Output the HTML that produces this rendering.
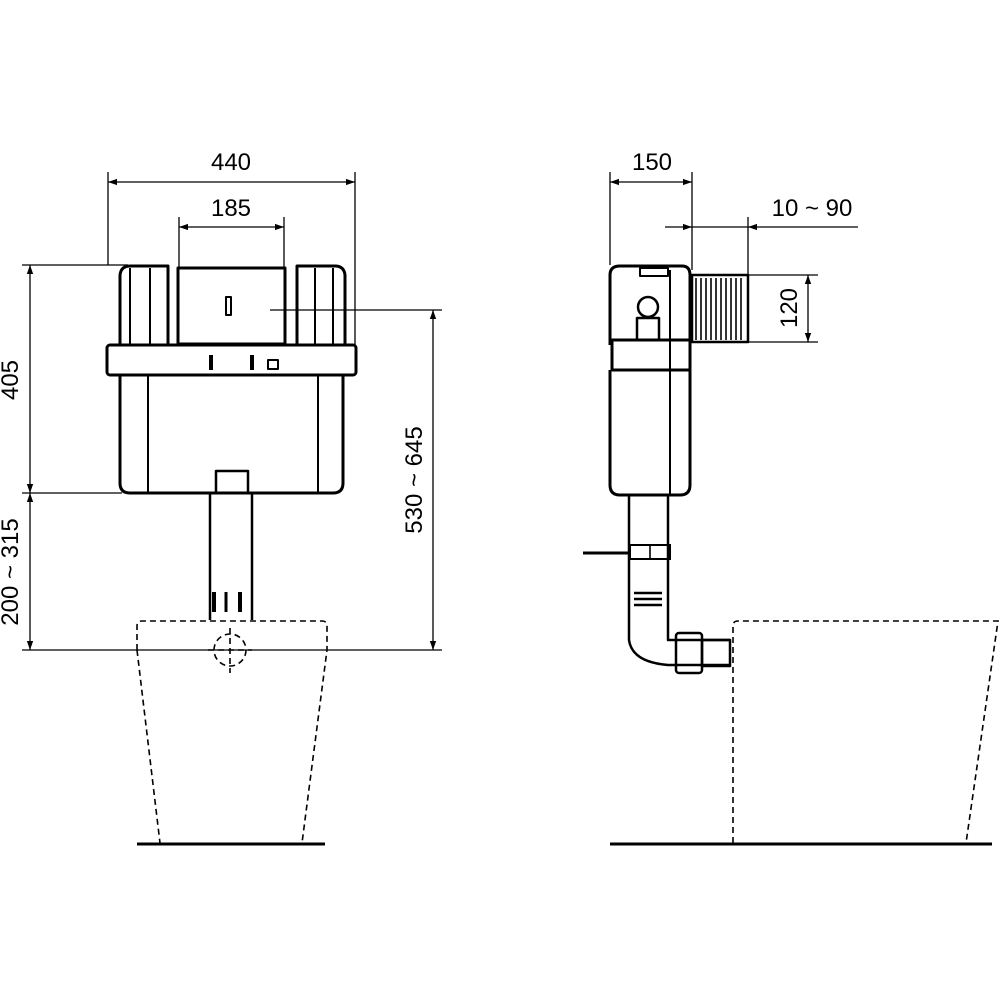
<!DOCTYPE html>
<html><head><meta charset="utf-8"><style>
html,body{margin:0;padding:0;background:#fff}
svg{display:block}
text{font-family:"Liberation Sans",sans-serif;font-size:24px;fill:#000;font-weight:500}
</style></head><body>
<svg width="1000" height="1000" viewBox="0 0 1000 1000" xmlns="http://www.w3.org/2000/svg">
<defs>
<marker id="a" viewBox="0 0 10 10" refX="10" refY="5" markerWidth="9" markerHeight="9" orient="auto-start-reverse" markerUnits="userSpaceOnUse"><path d="M0,1.5 L10,5 L0,8.5 z" fill="#000"/></marker>
</defs>
<g stroke="#000" stroke-width="1.3" fill="none">
<line x1="108" y1="172" x2="108" y2="265"/><line x1="355" y1="172" x2="355" y2="345"/>
<line x1="108" y1="182" x2="355" y2="182" marker-start="url(#a)" marker-end="url(#a)"/>
<line x1="179" y1="217" x2="179" y2="268"/><line x1="284" y1="217" x2="284" y2="268"/>
<line x1="179" y1="227" x2="284" y2="227" marker-start="url(#a)" marker-end="url(#a)"/>
<line x1="22" y1="265" x2="128" y2="265"/><line x1="22" y1="493" x2="122" y2="493"/>
<line x1="30" y1="265" x2="30" y2="493" marker-start="url(#a)" marker-end="url(#a)"/>
<line x1="30" y1="493" x2="30" y2="650" marker-start="url(#a)" marker-end="url(#a)"/>
<line x1="22" y1="650" x2="442" y2="650"/>
<line x1="270" y1="310" x2="442" y2="310"/>
<line x1="433" y1="310" x2="433" y2="650" marker-start="url(#a)" marker-end="url(#a)"/>
<line x1="610" y1="172" x2="610" y2="265"/><line x1="692" y1="172" x2="692" y2="270"/>
<line x1="610" y1="182" x2="692" y2="182" marker-start="url(#a)" marker-end="url(#a)"/>
<line x1="748" y1="217" x2="748" y2="275"/>
<line x1="665" y1="227" x2="692" y2="227" marker-end="url(#a)"/>
<line x1="692" y1="227" x2="748" y2="227"/>
<line x1="858" y1="227" x2="748" y2="227" marker-end="url(#a)"/>
<line x1="748" y1="275" x2="818" y2="275"/><line x1="748" y1="342" x2="818" y2="342"/>
<line x1="808" y1="275" x2="808" y2="342" marker-start="url(#a)" marker-end="url(#a)"/>
</g>
<text x="231" y="170" text-anchor="middle">440</text>
<text x="231" y="216" text-anchor="middle">185</text>
<text transform="translate(18,380) rotate(-90)" text-anchor="middle">405</text>
<text transform="translate(18,572) rotate(-90)" text-anchor="middle">200 ~ 315</text>
<text transform="translate(422,480) rotate(-90)" text-anchor="middle">530 ~ 645</text>
<text x="652" y="170" text-anchor="middle">150</text>
<text x="812" y="216" text-anchor="middle">10 ~ 90</text>
<text transform="translate(797,308) rotate(-90)" text-anchor="middle">120</text>

<g stroke="#000" stroke-width="3" fill="none" stroke-linejoin="round">
<path d="M120,345 L120,275 Q121,266 130,266 L168,266 L168,345"/>
<path d="M345,345 L345,275 Q344,266 335,266 L297,266 L297,345"/>
<rect x="178" y="268" width="107" height="76"/>
<line x1="130" y1="268" x2="130" y2="345" stroke-width="2"/>
<line x1="150" y1="268" x2="150" y2="345" stroke-width="2"/>
<line x1="315" y1="268" x2="315" y2="345" stroke-width="2"/>
<line x1="333" y1="268" x2="333" y2="345" stroke-width="2"/>
<rect x="107" y="345" width="249" height="30" rx="3"/>
<path d="M120,375 L120,483 Q120,493 130,493 L333,493 Q343,493 343,483 L343,375"/>
<line x1="148" y1="375" x2="148" y2="493" stroke-width="2"/>
<line x1="318" y1="375" x2="318" y2="493" stroke-width="2"/>
<rect x="216" y="471" width="32" height="22" stroke-width="2.5"/>
<rect x="226" y="297" width="5" height="18" stroke-width="2"/>
<rect x="268" y="360" width="10" height="9" stroke-width="2"/>
<line x1="211" y1="355" x2="211" y2="370" stroke-width="4"/>
<line x1="252" y1="355" x2="252" y2="370" stroke-width="4"/>
<line x1="210" y1="493" x2="210" y2="620" stroke-width="2.5"/>
<line x1="252" y1="493" x2="252" y2="620" stroke-width="2.5"/>
<line x1="214" y1="592" x2="214" y2="612" stroke-width="4"/>
<line x1="226" y1="592" x2="226" y2="612" stroke-width="3"/>
<line x1="240" y1="592" x2="240" y2="612" stroke-width="4"/>
<path d="M610,345 L610,275 Q610,266 620,266 L682,266 Q690,266 690,275 L690,345"/>
<rect x="612" y="340" width="78" height="30"/>
<path d="M610,370 L610,485 Q610,495 620,495 L680,495 Q690,495 690,485 L690,370"/>
<line x1="670" y1="270" x2="670" y2="495" stroke-width="2"/>
<circle cx="648" cy="307" r="10" stroke-width="2.5"/>
<rect x="637" y="318" width="22" height="22" stroke-width="2.5"/>
<rect x="640" y="268" width="28" height="8" stroke-width="2"/>
<rect x="692" y="275" width="56" height="67" stroke-width="2.5"/>
<path d="M629,495 L629,640 Q632,662 668,665 L730,665" stroke-width="2.5"/>
<path d="M668,495 L668,640 L730,640" stroke-width="2.5"/>
<rect x="676" y="633" width="26" height="40" stroke-width="2.5" rx="3"/>
<rect x="702" y="640" width="28" height="26" stroke-width="2.5"/>
<line x1="137" y1="844" x2="325" y2="844" stroke-width="3"/>
<line x1="610" y1="844" x2="992" y2="844" stroke-width="3"/>
</g>
<g stroke="#000" stroke-width="1.6" fill="none">
<line x1="696" y1="278" x2="696" y2="340"/><line x1="701" y1="278" x2="701" y2="340"/><line x1="706" y1="278" x2="706" y2="340"/>
<line x1="711" y1="278" x2="711" y2="340"/><line x1="716" y1="278" x2="716" y2="340"/><line x1="721" y1="278" x2="721" y2="340"/>
<line x1="726" y1="278" x2="726" y2="340"/><line x1="731" y1="278" x2="731" y2="340"/><line x1="736" y1="278" x2="736" y2="340"/><line x1="741" y1="278" x2="741" y2="340"/>
<line x1="634" y1="593" x2="662" y2="593" stroke-width="2.5"/><line x1="634" y1="599" x2="662" y2="599" stroke-width="2.5"/><line x1="634" y1="605" x2="662" y2="605" stroke-width="2.5"/>
<line x1="583" y1="553" x2="630" y2="553" stroke-width="3"/>
<rect x="630" y="545" width="40" height="14" stroke-width="2"/>
<line x1="650" y1="545" x2="650" y2="559"/>
<g stroke-dasharray="6,4">
<path d="M137,650 L137,626 Q137,621 142,621 L322,621 Q327,621 327,626 L327,650 L302,843"/>
<path d="M137,650 L160,843"/>
<circle cx="230" cy="650" r="16"/>
<line x1="230" y1="628" x2="230" y2="673"/><line x1="208" y1="650" x2="252" y2="650"/>
<path d="M733,843 L733,626 Q733,621 738,621 L998,621 L966,843"/>
</g>
</g>
</svg>
</body></html>
